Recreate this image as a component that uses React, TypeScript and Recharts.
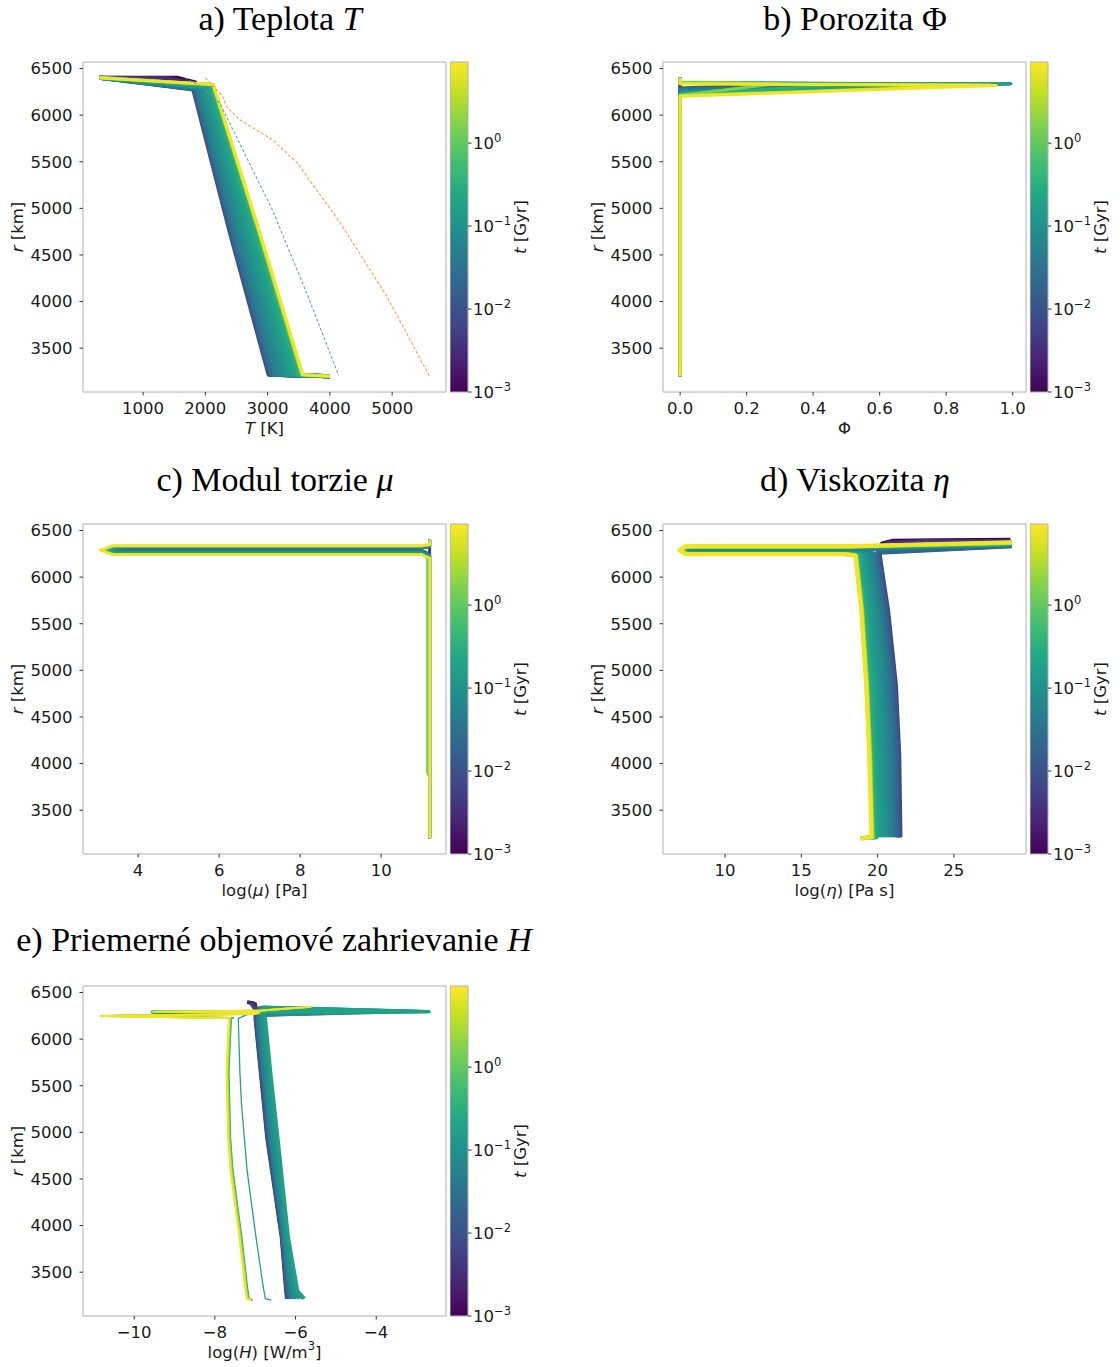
import React from 'react';
import { LineChart, Line, XAxis, YAxis, ReferenceArea } from 'recharts';

// ---------------- data ----------------
const timesGyr = [0.001, 0.003, 0.006, 0.012, 0.02, 0.03, 0.045, 0.06, 0.08, 0.1, 0.13, 0.17, 0.22, 0.3, 1.5, 4, 8];
const tMinGyr = 0.001;
const tMaxGyr = 9.5;
const colorbarExponents = [-3, -2, -1, 0];

const rTicks = [3500, 4000, 4500, 5000, 5500, 6000, 6500];
const rDomain = [3030, 6570];

const tempTicks = [1000, 2000, 3000, 4000, 5000];
const porosityTicks = [0, 0.2, 0.4, 0.6, 0.8, 1.0];
const shearTicks = [4, 6, 8, 10];
const viscTicks = [10, 15, 20, 25];
const heatTicks = [-10, -8, -6, -4];

// [T (K), r (km)]
const tempProfiles = [
  [[300, 6400], [1560, 6400], [1840, 6350], [1838, 6280], [2438, 4750], [3071, 3215], [4000, 3200]],
  [[300, 6400], [1400, 6395], [1830, 6335], [1822, 6278], [2414, 4750], [3043, 3215], [4000, 3200]],
  [[300, 6400], [1150, 6382], [1806, 6275], [2390, 4750], [3016, 3215], [4000, 3200]],
  [[300, 6400], [1812, 6276], [2400, 4750], [3027, 3215], [4000, 3200]],
  [[300, 6400], [1825, 6278], [2419, 4750], [3049, 3215], [4000, 3200]],
  [[300, 6400], [1845, 6281], [2448, 4750], [3082, 3215], [4000, 3200]],
  [[300, 6400], [1871, 6286], [2486, 4750], [3126, 3215], [4000, 3200]],
  [[300, 6400], [1903, 6291], [2534, 4750], [3181, 3215], [4000, 3200]],
  [[300, 6400], [1935, 6297], [2582, 4750], [3236, 3215], [4000, 3200]],
  [[300, 6400], [1968, 6302], [2630, 4750], [3291, 3215], [4000, 3200]],
  [[300, 6400], [2000, 6307], [2678, 4750], [3345, 3215], [4000, 3200]],
  [[300, 6400], [2032, 6313], [2726, 4750], [3400, 3215], [4000, 3200]],
  [[300, 6400], [2064, 6318], [2774, 4750], [3455, 3215], [4000, 3200]],
  [[300, 6400], [2090, 6323], [2812, 4750], [3499, 3215], [4000, 3200]],
  [[300, 6400], [2116, 6327], [2851, 4750], [3543, 3215], [4000, 3200]],
  [[300, 6400], [2126, 6328], [2865, 4750], [3560, 3215], [4000, 3200]],
  [[300, 6400], [2129, 6329], [2870, 4750], [3565, 3215], [4000, 3200]],
];
const solidusT = [1670, 1955, 2120, 2230, 3075, 3650, 4140];
const solidusR = [6400, 6296, 6202, 6132, 4986, 4054, 3210];
const liquidusT = [2000, 2280, 2335, 2548, 3075, 3477, 4168, 4916, 5600];
const liquidusR = [6400, 6200, 6095, 5952, 5737, 5487, 4843, 4054, 3200];

// [phi, r]
const porosityProfiles = [
  [[0, 3200], [0, 6400]],
  [[0, 3200], [0, 6400]],
  [[0, 3200], [0, 6400]],
  [[0, 3200], [0, 6290], [0.25, 6325], [0, 6348], [0, 6400]],
  [[0, 3200], [0, 6282], [0.4, 6327], [0, 6348], [0, 6400]],
  [[0, 3200], [0, 6274], [0.55, 6329], [0, 6348], [0, 6400]],
  [[0, 3200], [0, 6266], [0.7, 6331], [0, 6347], [0, 6400]],
  [[0, 3200], [0, 6258], [0.85, 6333], [0, 6346], [0, 6400]],
  [[0, 3200], [0, 6250], [0.97, 6335], [0, 6345], [0, 6400]],
  [[0, 3200], [0, 6244], [0.995, 6336], [0, 6345], [0, 6400]],
  [[0, 3200], [0, 6238], [0.99, 6335], [0, 6344], [0, 6400]],
  [[0, 3200], [0, 6232], [0.98, 6333], [0, 6343], [0, 6400]],
  [[0, 3200], [0, 6226], [0.96, 6331], [0, 6342], [0, 6400]],
  [[0, 3200], [0, 6220], [0.5, 6330], [0, 6350], [0, 6400]],
  [[0, 3200], [0, 6214], [0.3, 6340], [0, 6355], [0, 6400]],
  [[0, 3200], [0, 6208], [0.93, 6322], [0, 6338], [0, 6400]],
  [[0, 3200], [0, 6202], [0.95, 6318], [0, 6336], [0, 6400]],
];

// [log mu, r]
const shearProfiles = [
  [[11.2, 3200], [11.2, 6400]],
  [[11.2, 3200], [11.2, 6400]],
  [[11.2, 3200], [11.2, 6400]],
  [[11.2, 3200], [11.2, 6250], [11.0, 6290], [3.8, 6290], [3.5, 6301], [3.8, 6312], [11.0, 6312], [11.2, 6324], [11.2, 6400]],
  [[11.2, 3200], [11.2, 6245], [11.0, 6285], [3.75, 6285], [3.45, 6300], [3.75, 6314], [11.0, 6314], [11.2, 6326], [11.2, 6400]],
  [[11.2, 3200], [11.2, 6240], [11.0, 6280], [3.7, 6280], [3.4, 6298], [3.7, 6316], [11.0, 6316], [11.2, 6328], [11.2, 6400]],
  [[11.2, 3200], [11.2, 6235], [11.0, 6275], [3.65, 6275], [3.35, 6297], [3.65, 6318], [11.0, 6318], [11.2, 6330], [11.2, 6400]],
  [[11.2, 3200], [11.2, 6230], [11.0, 6270], [3.6, 6270], [3.3, 6295], [3.6, 6320], [11.0, 6320], [11.2, 6332], [11.2, 6400]],
  [[11.2, 3200], [11.2, 6226], [11.0, 6266], [3.57, 6266], [3.27, 6294], [3.57, 6322], [11.0, 6322], [11.2, 6334], [11.2, 6400]],
  [[11.2, 3200], [11.2, 6222], [11.0, 6262], [3.54, 6262], [3.24, 6293], [3.54, 6324], [11.0, 6324], [11.2, 6336], [11.2, 6400]],
  [[11.2, 3200], [11.2, 6218], [11.0, 6258], [3.51, 6258], [3.21, 6292], [3.51, 6326], [11.0, 6326], [11.2, 6338], [11.2, 6400]],
  [[11.2, 3200], [11.2, 6214], [11.0, 6254], [3.48, 6254], [3.18, 6291], [3.48, 6328], [11.0, 6328], [11.2, 6340], [11.2, 6400]],
  [[11.2, 3200], [11.2, 6210], [11.0, 6250], [3.45, 6250], [3.15, 6290], [3.45, 6330], [11.0, 6330], [11.2, 6342], [11.2, 6400]],
  [[11.2, 3200], [11.2, 6207], [11.0, 6247], [3.42, 6247], [3.12, 6290], [3.42, 6332], [11.0, 6332], [11.2, 6344], [11.2, 6400]],
  [[11.2, 3200], [11.2, 3850], [11.14, 3900], [11.14, 6205], [11.0, 6245], [3.4, 6245], [3.1, 6289], [3.4, 6333], [11.0, 6333], [11.2, 6345], [11.2, 6400]],
  [[11.2, 3200], [11.2, 6203], [11.0, 6243], [3.38, 6243], [3.08, 6289], [3.38, 6335], [11.0, 6335], [11.2, 6347], [11.2, 6400]],
  [[11.2, 3200], [11.2, 6201], [11.0, 6241], [3.36, 6241], [3.06, 6289], [3.36, 6337], [11.0, 6337], [11.2, 6349], [11.2, 6400]],
];

// [log eta, r]
const viscProfiles = [
  [[28.7, 6400], [24.0, 6397], [21.0, 6390], [20.3, 6362], [20.05, 6300], [19.99, 6230], [20.51, 5640], [21.01, 4850], [21.22, 4100], [21.31, 3210]],
  [[28.7, 6388], [23.0, 6384], [20.8, 6372], [20.4, 6352], [20.1, 6295], [20.07, 6230], [20.6, 5640], [21.1, 4850], [21.32, 4100], [21.41, 3210]],
  [[28.8, 6378], [23.0, 6372], [20.6, 6345], [20.2, 6285], [20.15, 6230], [20.69, 5640], [21.2, 4850], [21.42, 4100], [21.5, 3210]],
  [[28.8, 6330], [20.1, 6262], [20.09, 6230], [20.62, 5640], [21.12, 4850], [21.34, 4100], [21.42, 3210]],
  [[28.8, 6335], [20.0, 6268], [19.96, 6230], [20.48, 5640], [20.97, 4850], [21.18, 4100], [21.27, 3210]],
  [[28.8, 6342], [19.8, 6303], [18.0, 6300], [8.0, 6300], [7.6, 6288], [8.0, 6275], [17.8, 6275], [19.7, 6262], [19.83, 6230], [20.34, 5640], [20.81, 4850], [21.03, 4100], [21.12, 3210]],
  [[28.8, 6345], [19.7, 6308], [18.0, 6305], [7.9, 6305], [7.5, 6288], [7.9, 6270], [17.8, 6270], [19.55, 6258], [19.69, 6230], [20.18, 5640], [20.63, 4850], [20.85, 4100], [20.95, 3210]],
  [[28.8, 6348], [19.6, 6313], [18.0, 6310], [7.85, 6310], [7.45, 6288], [7.85, 6266], [17.8, 6266], [19.4, 6254], [19.54, 6230], [20.02, 5640], [20.46, 4850], [20.67, 4100], [20.78, 3210]],
  [[28.8, 6350], [19.5, 6317], [18.0, 6314], [7.8, 6314], [7.4, 6288], [7.8, 6262], [17.8, 6262], [19.25, 6250], [19.4, 6230], [19.86, 5640], [20.28, 4850], [20.49, 4100], [20.61, 3210]],
  [[28.8, 6352], [19.4, 6320], [18.0, 6317], [7.75, 6317], [7.35, 6288], [7.75, 6259], [17.8, 6259], [19.1, 6247], [19.25, 6230], [19.7, 5640], [20.11, 4850], [20.32, 4100], [20.44, 3210]],
  [[28.8, 6354], [19.3, 6323], [18.0, 6320], [7.7, 6320], [7.3, 6288], [7.7, 6257], [17.8, 6257], [18.95, 6245], [19.11, 6230], [19.55, 5640], [19.93, 4850], [20.14, 4100], [20.27, 3210]],
  [[28.8, 6356], [19.2, 6325], [18.0, 6322], [7.65, 6322], [7.25, 6288], [7.65, 6255], [17.8, 6255], [18.8, 6243], [18.97, 6230], [19.39, 5640], [19.76, 4850], [19.96, 4100], [20.09, 3210]],
  [[28.8, 6358], [19.1, 6327], [18.0, 6324], [7.6, 6324], [7.2, 6288], [7.6, 6253], [17.8, 6253], [18.7, 6241], [18.84, 6230], [19.25, 5640], [19.6, 4850], [19.8, 4100], [19.94, 3210], [18.9, 3200]],
  [[28.8, 6360], [19.0, 6329], [18.0, 6326], [7.55, 6326], [7.15, 6288], [7.55, 6251], [17.8, 6251], [18.6, 6240], [18.74, 6230], [19.14, 5640], [19.48, 4850], [19.69, 4100], [19.83, 3210], [18.9, 3200]],
  [[28.8, 6365], [18.85, 6330], [18.0, 6327], [7.5, 6327], [7.1, 6288], [7.5, 6249], [17.8, 6249], [18.45, 6238], [18.61, 6230], [19.0, 5640], [19.33, 4850], [19.53, 4100], [19.68, 3210], [18.9, 3200]],
  [[28.8, 6370], [18.75, 6331], [18.0, 6328], [7.45, 6328], [7.05, 6288], [7.45, 6248], [17.8, 6248], [18.4, 6237], [18.57, 6230], [18.95, 5640], [19.27, 4850], [19.47, 4100], [19.62, 3210], [18.9, 3200]],
  [[28.8, 6373], [18.7, 6333], [18.0, 6330], [7.4, 6330], [7.0, 6288], [7.4, 6246], [17.8, 6246], [18.4, 6236], [18.55, 6230], [18.93, 5640], [19.25, 4850], [19.45, 4100], [19.6, 3210], [18.9, 3200]],
];

// [log H, r]
const heatProfiles = [
  [[-7.2, 6398], [-7.05, 6388], [-7.0, 6320], [-6.99, 6260], [-6.98, 6222], [-6.85, 5650], [-6.68, 4941], [-6.33, 3874], [-6.21, 3300], [-6.18, 3216]],
  [[-7.18, 6392], [-7.0, 6380], [-6.98, 6310], [-6.99, 6222], [-6.86, 5650], [-6.7, 4941], [-6.34, 3874], [-6.23, 3300], [-6.2, 3216]],
  [[-7.1, 6380], [-6.98, 6300], [-7.0, 6222], [-6.87, 5650], [-6.71, 4941], [-6.35, 3874], [-6.24, 3300], [-6.22, 3216]],
  [[-6.95, 6330], [-5.8, 6296], [-6.95, 6262], [-6.98, 6222], [-6.85, 5650], [-6.69, 4941], [-6.34, 3874], [-6.22, 3300], [-6.18, 3216]],
  [[-6.94, 6332], [-5.3, 6295], [-6.94, 6261], [-6.96, 6222], [-6.83, 5650], [-6.66, 4941], [-6.32, 3874], [-6.19, 3300], [-6.15, 3216]],
  [[-6.92, 6334], [-4.8, 6295], [-6.92, 6260], [-6.94, 6222], [-6.81, 5650], [-6.64, 4941], [-6.31, 3874], [-6.16, 3300], [-6.11, 3216]],
  [[-6.9, 6336], [-4.3, 6294], [-6.9, 6259], [-6.91, 6222], [-6.78, 5650], [-6.62, 4941], [-6.29, 3874], [-6.14, 3300], [-6.07, 3216]],
  [[-6.88, 6337], [-3.8, 6294], [-6.88, 6258], [-6.89, 6222], [-6.76, 5650], [-6.59, 4941], [-6.27, 3874], [-6.11, 3300], [-6.02, 3216]],
  [[-6.86, 6338], [-3.4, 6294], [-6.86, 6258], [-6.86, 6222], [-6.73, 5650], [-6.56, 4941], [-6.26, 3874], [-6.08, 3300], [-5.98, 3216]],
  [[-6.84, 6339], [-3.1, 6296], [-6.9, 6292], [-9.5, 6289], [-6.9, 6284], [-6.84, 6258], [-6.83, 6222], [-6.7, 5650], [-6.52, 4941], [-6.23, 3874], [-6.04, 3300], [-5.91, 3216]],
  [[-6.82, 6340], [-2.9, 6296], [-6.9, 6292], [-9.55, 6290], [-6.9, 6286], [-6.8, 6258], [-6.78, 6222], [-6.65, 5650], [-6.47, 4941], [-6.2, 3874], [-5.98, 3300], [-5.82, 3216]],
  [[-6.8, 6342], [-2.69, 6295], [-6.85, 6288], [-6.78, 6258], [-6.75, 6222], [-6.62, 5650], [-6.44, 4941], [-6.18, 3874], [-5.95, 3300], [-5.78, 3216]],
  [[-6.9, 6332], [-3.5, 6297], [-6.9, 6290], [-9.4, 6286], [-7.2, 6262], [-7.42, 6222], [-7.38, 5650], [-7.34, 5298], [-7.2, 4586], [-6.98, 3874], [-6.8, 3340], [-6.75, 3216], [-6.6, 3200]],
  [[-5.9, 6340], [-6.9, 6302], [-9.0, 6293], [-6.9, 6284], [-7.0, 6272], [-10.5, 6250], [-7.55, 6228], [-7.6, 6222], [-7.66, 5650], [-7.62, 4941], [-7.56, 4586], [-7.34, 3874], [-7.2, 3340], [-7.16, 3216], [-7.06, 3200]],
  [[-5.8, 6343], [-6.9, 6304], [-9.3, 6294], [-6.9, 6285], [-7.0, 6271], [-10.7, 6249], [-7.6, 6227], [-7.62, 6222], [-7.68, 5650], [-7.64, 4941], [-7.58, 4586], [-7.36, 3874], [-7.22, 3340], [-7.18, 3216], [-7.08, 3200]],
  [[-5.7, 6345], [-6.9, 6305], [-9.55, 6294], [-6.9, 6285], [-7.0, 6272], [-10.83, 6248], [-7.62, 6226], [-7.64, 6222], [-7.7, 5650], [-7.66, 4941], [-7.6, 4586], [-7.38, 3874], [-7.24, 3340], [-7.2, 3216], [-7.1, 3200]],
  [[-5.6, 6348], [-6.85, 6306], [-9.5, 6295], [-6.9, 6286], [-7.0, 6270], [-10.8, 6247], [-7.64, 6225], [-7.65, 6222], [-7.71, 5650], [-7.67, 4941], [-7.61, 4586], [-7.39, 3874], [-7.25, 3340], [-7.21, 3216], [-7.1, 3200]],
];

// ---------------- styling helpers ----------------
const FONT = "'DejaVu Sans', 'Noto Sans', sans-serif";
const SERIF = "'Liberation Serif', 'DejaVu Serif', serif";
const TXT = '#1a1a1a';
const FS = 16.5;
const VIRIDIS = ['#440154', '#482475', '#414487', '#355f8d', '#2a788e', '#21918c', '#22a884', '#44bf70', '#7ad151', '#bddf26', '#fde725'];

function hexToRgb(h: string) {
  return [parseInt(h.slice(1, 3), 16), parseInt(h.slice(3, 5), 16), parseInt(h.slice(5, 7), 16)];
}
function viridis(p: number) {
  const c = Math.max(0, Math.min(1, p)) * (VIRIDIS.length - 1);
  const i = Math.min(VIRIDIS.length - 2, Math.floor(c));
  const f = c - i;
  const a = hexToRgb(VIRIDIS[i]);
  const b = hexToRgb(VIRIDIS[i + 1]);
  const m = a.map((v, k) => Math.round(v + (b[k] - v) * f));
  return `rgb(${m[0]},${m[1]},${m[2]})`;
}
const cbLo = Math.log10(tMinGyr);
const cbHi = Math.log10(tMaxGyr);
function timeColor(t: number) {
  return viridis((Math.log10(t) - cbLo) / (cbHi - cbLo));
}

const PW = 363;
const PH = 330;
const YW = 80;
const XH = 50;
const MT = 2;
const MR = 2;
const CB_MT = 10;
const CB_MB = 16;

const CbTick = (props: any) => {
  const { x, y, payload } = props;
  const e = payload.value;
  return (
    <text x={x} y={y} dy="0.355em" fontSize={FS} fontFamily={FONT} fill={TXT} textAnchor="start">
      10
      <tspan dy={-7} fontSize={11.5}>{e < 0 ? `\u2212${-e}` : `${e}`}</tspan>
    </text>
  );
};

function Colorbar({ id, left, top }: { id: string; left: number; top: number }) {
  const gid = `vir-${id}`;
  const cy = CB_MT + PH / 2;
  return (
    <div style={{ position: 'absolute', left, top: top - CB_MT }}>
      <LineChart width={88} height={PH + CB_MT + CB_MB} margin={{ top: CB_MT, right: 0, bottom: CB_MB, left: 0 }}>
        <defs>
          <linearGradient id={gid} x1="0" y1="1" x2="0" y2="0">
            {VIRIDIS.map((c, i) => (
              <stop key={i} offset={i / (VIRIDIS.length - 1)} stopColor={c} />
            ))}
          </linearGradient>
        </defs>
        <XAxis type="number" dataKey="x" domain={[0, 1]} hide allowDataOverflow />
        <YAxis
          type="number"
          orientation="right"
          domain={[cbLo, cbHi]}
          ticks={colorbarExponents}
          allowDataOverflow
          width={70}
          axisLine={false}
          tickLine={{ stroke: '#333' }}
          tickSize={3.5}
          tickMargin={1.5}
          interval={0}
          tick={(p: any) => <CbTick {...p} />}
          label={() => (
            <text
              x={70}
              y={cy}
              transform={`rotate(-90 70 ${cy})`}
              textAnchor="middle"
              dominantBaseline="central"
              fontFamily={FONT}
              fontSize={FS}
              fill={TXT}
            >
              <tspan fontStyle="italic">t</tspan> [Gyr]
            </text>
          )}
        />
        <Line
          data={[{ x: 0, y: cbLo }, { x: 1, y: cbHi }]}
          dataKey="y"
          stroke="none"
          dot={false}
          activeDot={false}
          isAnimationActive={false}
        />
        <ReferenceArea x1={0} x2={1} y1={cbLo} y2={cbHi} fill={`url(#${gid})`} fillOpacity={1} stroke="#b0b0b0" strokeWidth={1} ifOverflow="visible" />
      </LineChart>
    </div>
  );
}

type PanelProps = {
  id: string;
  boxLeft: number;
  boxTop: number;
  xDomain: number[];
  xTicks: number[];
  fmt: (v: number) => string;
  xLabel: React.ReactNode;
  profiles: number[][][];
  widthFor: (i: number) => number;
  extras?: React.ReactNode[];
};

function Panel({ id, boxLeft, boxTop, xDomain, xTicks, fmt, xLabel, profiles, widthFor, extras }: PanelProps) {
  return (
    <>
      <div style={{ position: 'absolute', left: boxLeft - YW, top: boxTop - MT }}>
        <LineChart width={YW + PW + MR} height={MT + PH + XH} margin={{ top: MT, right: MR, bottom: 0, left: 0 }}>
          <XAxis
            type="number"
            dataKey="x"
            domain={xDomain}
            ticks={xTicks}
            allowDataOverflow
            interval={0}
            height={XH}
            axisLine={false}
            tickLine={{ stroke: '#333' }}
            tickSize={3.5}
            tickMargin={7}
            tick={{ fontSize: FS, fontFamily: FONT, fill: TXT }}
            tickFormatter={fmt}
            label={() => (
              <text
                x={YW + PW / 2}
                y={MT + PH + 36}
                textAnchor="middle"
                dominantBaseline="central"
                fontFamily={FONT}
                fontSize={FS}
                fill={TXT}
              >
                {xLabel}
              </text>
            )}
          />
          <YAxis
            type="number"
            domain={rDomain}
            ticks={rTicks}
            allowDataOverflow
            interval={0}
            width={YW}
            axisLine={false}
            tickLine={{ stroke: '#333' }}
            tickSize={3.5}
            tickMargin={7}
            tick={{ fontSize: FS, fontFamily: FONT, fill: TXT }}
            label={() => (
              <text
                x={14}
                y={MT + PH / 2}
                transform={`rotate(-90 14 ${MT + PH / 2})`}
                textAnchor="middle"
                dominantBaseline="central"
                fontFamily={FONT}
                fontSize={FS}
                fill={TXT}
              >
                <tspan fontStyle="italic">r</tspan> [km]
              </text>
            )}
          />
          {profiles.map((p, i) => (
            <Line
              key={`${id}-${i}`}
              data={p.map(([x, r]) => ({ x, r }))}
              dataKey="r"
              type="linear"
              stroke={timeColor(timesGyr[i])}
              strokeWidth={widthFor(i)}
              strokeLinejoin="round"
              dot={false}
              activeDot={false}
              isAnimationActive={false}
            />
          ))}
          {extras}
          <ReferenceArea
            x1={xDomain[0]}
            x2={xDomain[1]}
            y1={rDomain[0]}
            y2={rDomain[1]}
            fill="none"
            stroke="#b0b0b0"
            strokeWidth={1}
            ifOverflow="visible"
          />
        </LineChart>
      </div>
      <Colorbar id={id} left={boxLeft + 367} top={boxTop} />
    </>
  );
}

const minusFmt = (v: number) => (v < 0 ? `\u2212${-v}` : `${v}`);

export default function App() {
  const solidusData = solidusT.map((T, i) => ({ x: T, r: solidusR[i] }));
  const liquidusData = liquidusT.map((T, i) => ({ x: T, r: liquidusR[i] }));
  const tempExtras = [
    <Line key="sol" data={solidusData} dataKey="r" stroke="#4a90d0" strokeOpacity={0.85} strokeWidth={1.1} strokeDasharray="3 2" dot={false} activeDot={false} isAnimationActive={false} />,
    <Line key="liq" data={liquidusData} dataKey="r" stroke="#ff8c2a" strokeOpacity={0.85} strokeWidth={1.1} strokeDasharray="3 2" dot={false} activeDot={false} isAnimationActive={false} />,
  ];

  return (
    <div style={{ position: 'absolute', left: 0, top: 0, width: 1120, height: 1367, background: '#fff' }}>
      <Panel
        id="a"
        boxLeft={83}
        boxTop={62}
        xDomain={[35, 5865]}
        xTicks={tempTicks}
        fmt={(v) => `${v}`}
        xLabel={<><tspan fontStyle="italic">T</tspan><tspan> [K]</tspan></>}
        profiles={tempProfiles}
        widthFor={(i) => (i >= 14 ? 3 : 4)}
        extras={tempExtras}
      />
      <Panel
        id="b"
        boxLeft={663}
        boxTop={62}
        xDomain={[-0.0515, 1.04]}
        xTicks={porosityTicks}
        fmt={(v) => v.toFixed(1)}
        xLabel={<tspan>Φ</tspan>}
        profiles={porosityProfiles}
        widthFor={() => 3}
      />
      <Panel
        id="c"
        boxLeft={83}
        boxTop={524}
        xDomain={[2.64, 11.6]}
        xTicks={shearTicks}
        fmt={(v) => `${v}`}
        xLabel={<><tspan>log(</tspan><tspan fontStyle="italic">μ</tspan><tspan>) [Pa]</tspan></>}
        profiles={shearProfiles}
        widthFor={() => 2.5}
      />
      <Panel
        id="d"
        boxLeft={663}
        boxTop={524}
        xDomain={[5.93, 29.73]}
        xTicks={viscTicks}
        fmt={(v) => `${v}`}
        xLabel={<><tspan>log(</tspan><tspan fontStyle="italic">η</tspan><tspan>) [Pa s]</tspan></>}
        profiles={viscProfiles}
        widthFor={() => 4}
      />
      <Panel
        id="e"
        boxLeft={83}
        boxTop={986}
        xDomain={[-11.27, -2.27]}
        xTicks={heatTicks}
        fmt={minusFmt}
        xLabel={<><tspan>log(</tspan><tspan fontStyle="italic">H</tspan><tspan>) [W/m</tspan><tspan dy={-6} fontSize={11.5}>3</tspan><tspan dy={6}>]</tspan></>}
        profiles={heatProfiles}
        widthFor={(i) => (i <= 11 ? 3.5 : i === 12 ? 1.3 : 2)}
      />
      <svg width={1120} height={1367} style={{ position: 'absolute', left: 0, top: 0, pointerEvents: 'none' }}>
        <g fontFamily={SERIF} fontSize={34} fill="#000" textAnchor="middle">
          <text x={280} y={30}>a) Teplota <tspan fontStyle="italic">T</tspan></text>
          <text x={855} y={30}>b) Porozita Φ</text>
          <text x={275} y={491}>c) Modul torzie <tspan fontStyle="italic">μ</tspan></text>
          <text x={855} y={491}>d) Viskozita <tspan fontStyle="italic">η</tspan></text>
          <text x={274} y={951}>e) Priemerné objemové zahrievanie <tspan fontStyle="italic">H</tspan></text>
        </g>
      </svg>
    </div>
  );
}
